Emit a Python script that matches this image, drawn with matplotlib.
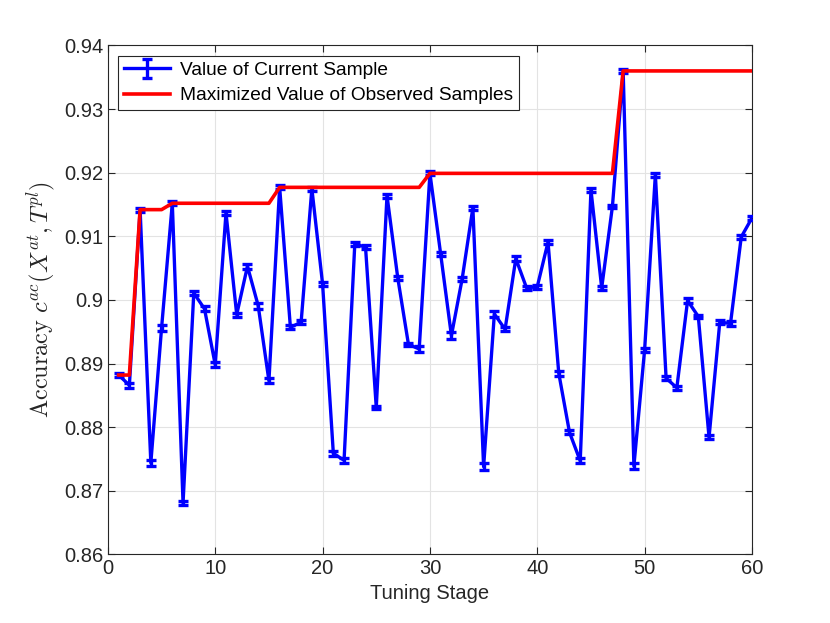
import numpy as np
import matplotlib
matplotlib.use('Agg')
import matplotlib.pyplot as plt

stage = np.arange(1, 61)
acc = [0.8882, 0.8866, 0.9142, 0.8744, 0.8956, 0.9152, 0.8681, 0.9011, 0.8986, 0.8898,
       0.9137, 0.8977, 0.9053, 0.8991, 0.8873, 0.9177, 0.8957, 0.8965, 0.9175, 0.9025,
       0.8759, 0.8748, 0.9088, 0.9083, 0.8831, 0.9164, 0.9035, 0.8930, 0.8923, 0.9199,
       0.9072, 0.8944, 0.9033, 0.9145, 0.8738, 0.8978, 0.8954, 0.9065, 0.9019, 0.9021,
       0.9091, 0.8885, 0.8792, 0.8747, 0.9173, 0.9019, 0.9147, 0.9360, 0.8739, 0.8922,
       0.9197, 0.8877, 0.8862, 0.8999, 0.8974, 0.8784, 0.8965, 0.8963, 0.9099, 0.9129]
err = [0.0003, 0.0004, 0.0003, 0.0005, 0.0004, 0.0003, 0.0003, 0.0003, 0.0004, 0.0004,
       0.0003, 0.0003, 0.0004, 0.0005, 0.0004, 0.0003, 0.0003, 0.0003, 0.0003, 0.0003,
       0.0004, 0.0004, 0.0003, 0.0003, 0.0003, 0.0003, 0.0003, 0.0003, 0.0004, 0.0003,
       0.0003, 0.0005, 0.0003, 0.0003, 0.0005, 0.0004, 0.0003, 0.0004, 0.0003, 0.0003,
       0.0003, 0.0004, 0.0003, 0.0004, 0.0003, 0.0003, 0.0003, 0.0003, 0.0005, 0.0003,
       0.0003, 0.0003, 0.0003, 0.0004, 0.0003, 0.0003, 0.0003, 0.0004, 0.0003, 0.0003]

# best value seen so far
best = np.maximum.accumulate(acc)

plt.rcParams['font.family'] = ['Liberation Sans', 'DejaVu Sans']
plt.rcParams['mathtext.fontset'] = 'cm'

fig, ax = plt.subplots(figsize=(8.3, 6.23), dpi=100)
fig.subplots_adjust(left=0.13, right=0.906, top=0.927, bottom=0.11)

eb = ax.errorbar(stage, acc, yerr=err, color='#0000ff', lw=2.4, elinewidth=2.4,
                 capsize=3.5, capthick=2.4, label='Value of Current Sample', zorder=3)
ln, = ax.plot(stage, best, color='#ff0000', lw=2.6,
              label='Maximized Value of Observed Samples', zorder=4)

ax.set_xlim(0, 60)
ax.set_ylim(0.86, 0.94)
ax.set_xticks(np.arange(0, 61, 10))
ax.set_yticks(np.arange(0.86, 0.9401, 0.01))
ax.set_yticklabels(['0.86', '0.87', '0.88', '0.89', '0.9', '0.91', '0.92', '0.93', '0.94'])

ax.grid(True, color='#e3e3e3', lw=0.8)
ax.set_axisbelow(True)
ax.tick_params(direction='in', top=True, right=True, labelsize=14.5,
               colors='#262626', length=5)
for s in ax.spines.values():
    s.set_color('#262626')
    s.set_linewidth(0.8)

ax.set_xlabel('Tuning Stage', fontsize=14.5, color='#262626')
ax.set_ylabel(r'$\mathrm{Accuracy}\ c^{ac}(X^{at}, T^{pl})$', fontsize=17.5, color='#262626')

leg = ax.legend([eb, ln], ['Value of Current Sample', 'Maximized Value of Observed Samples'],
                loc='upper left', fontsize=13.8, fancybox=False, framealpha=1,
                edgecolor='#262626', borderaxespad=0.55, handlelength=2.4,
                handletextpad=0.5, borderpad=0.3, labelspacing=0.4)
leg.get_frame().set_linewidth(0.8)

plt.savefig('out.png', dpi=100)
